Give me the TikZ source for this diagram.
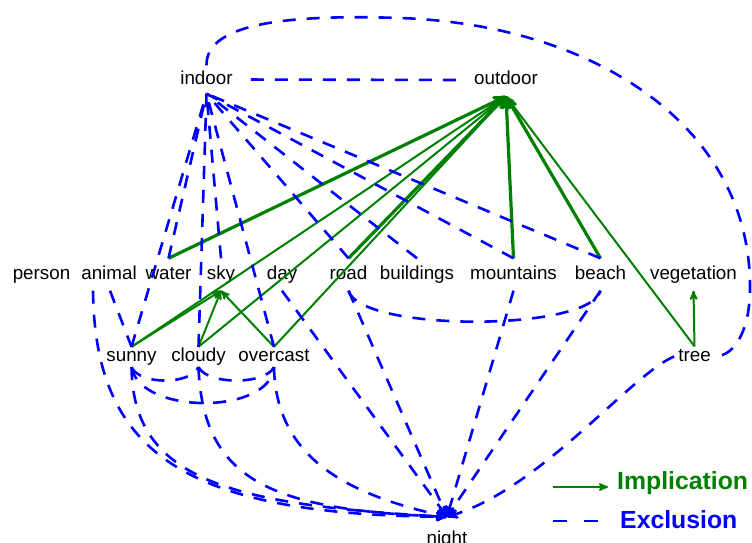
\documentclass[tikz,border=0pt]{standalone}
\usepackage{fontspec}
\setmainfont{Liberation Sans}
\usepackage{tikz}
\usetikzlibrary{arrows,positioning}
\definecolor{impgreen}{RGB}{0,128,0}
\definecolor{exblue}{RGB}{0,0,255}

\begin{document}
\begin{tikzpicture}[x=1pt, y=-1pt,
                    >=stealth',
                    lbl/.style = {inner xsep=4pt, inner ysep=0pt, text height=13.5pt, text depth=4pt,
                                  minimum height=#1, font=\fontsize{18.8}{22}\selectfont},
                    lbl/.default = 32pt,
                    legend/.style = {inner sep=0pt, font=\bfseries\fontsize{24.8}{28}\selectfont},
                    imp/.style = {->, draw=impgreen, line width=2pt},
                    impthick/.style = {imp, line width=3.2pt},
                    excl/.style = {draw=exblue, line width=2.6pt, dash pattern=on 13pt off 11pt}
                    ]
\useasboundingbox (0,0) rectangle (752,542);

% labels
\node[lbl=28pt] (indoor)  at (206.5,79.5) {indoor};
\node[lbl]      (outdoor) at (506,80)     {outdoor};

\node[lbl] (person)     at (41.5,274.5)  {person};
\node[lbl] (animal)     at (109,274.5)   {animal};
\node[lbl] (water)      at (168.5,274.5) {water};
\node[lbl] (sky)        at (221,274.5)   {sky};
\node[lbl] (day)        at (282,274.5)   {day};
\node[lbl] (road)       at (348.5,274.5) {road};
\node[lbl] (buildings)  at (417,274.5)   {buildings};
\node[lbl] (mountains)  at (513.5,274.5) {mountains};
\node[lbl] (beach)      at (600.5,274.5) {beach};
\node[lbl] (vegetation) at (693.5,274.5) {vegetation};

\node[lbl=20pt] (sunny)    at (131.5,357) {sunny};
\node[lbl=20pt] (cloudy)   at (198.5,357) {cloudy};
\node[lbl=20pt] (overcast) at (274,357)   {overcast};
\node[lbl=20pt] (tree)     at (694.5,356.5) {tree};

\node[lbl=46pt] (night) at (447,540) {night};

% implications
\path[every edge/.append style=impthick]
    (water.north)     edge (outdoor.south)
    (road.north)      edge (outdoor.south)
    (mountains.north) edge (outdoor.south)
    (beach.north)     edge (outdoor.south);
\path[every edge/.append style=imp]
    (sunny.north)    edge (outdoor.south)
    (cloudy.north)   edge (outdoor.south)
    (overcast.north) edge (outdoor.south)
    (tree.north)     edge (outdoor.south)
    (sunny.north)    edge (sky.south)
    (cloudy.north)   edge (sky.south)
    (overcast.north) edge (sky.south)
    (tree.north)     edge (vegetation.south);

% exclusions
\draw[excl, shorten <=14pt, shorten >=14pt] (indoor.east) -- (outdoor.west);
\path[every edge/.append style=excl]
    (water.north)     edge (indoor.south)
    (sunny.north)     edge (indoor.south)
    (cloudy.north)    edge (indoor.south)
    (sky.north)       edge (indoor.south)
    (overcast.north)  edge (indoor.south)
    (road.north)      edge (indoor.south)
    (buildings.north) edge (indoor.south)
    (mountains.north) edge (indoor.south)
    (beach.north)     edge (indoor.south)
    ([xshift=1pt]animal.south) edge (sunny.north);
\draw[excl] (indoor.north) .. controls (206,25) and (280,14) .. (400,18)
            .. controls (600,25) and (752,130) .. (750,290)
            .. controls (749.5,330) and (735,356) .. (tree.east);
\draw[excl] (road.south) .. controls (360,332) and (590,332) .. (beach.south);
\draw[excl] (sunny.south) .. controls (140,385) and (190,385) .. (cloudy.south);
\draw[excl] (cloudy.south) .. controls (208,385) and (265,385) .. (overcast.south);
\draw[excl] (sunny.south) .. controls (140,415) and (270,415) .. (overcast.south);

\draw[excl,->] ([xshift=-16pt]animal.south) .. controls (95,450) and (180,515) .. (night.north);
\draw[excl,->] (sunny.south) .. controls (133,480) and (230,505) .. (night.north);
\draw[excl,->] (cloudy.south) .. controls (203,480) and (270,510) .. (night.north);
\draw[excl,->] (overcast.south) .. controls (276,460) and (350,495) .. (night.north);
\draw[excl,->] (tree.west) .. controls (630,375) and (540,490) .. (night.north);
\path[every edge/.append style={excl,->}]
    (day.south)       edge (night.north)
    (road.south)      edge (night.north)
    (mountains.south) edge (night.north)
    (beach.south)     edge (night.north);

% legend
\coordinate (impL) at (553,487);
\coordinate (impR) at (608,487);
\coordinate (exL)  at (553,521);
\coordinate (exR)  at (598,521);
\draw[imp] (impL) -- (impR);
\draw[excl, dash pattern=on 14pt off 17pt] (exL) -- (exR);
\node[legend, text=impgreen, right=9pt of impR, yshift=3.5pt] (implication) {Implication};
\node[legend, text=exblue, right=22pt of exR, yshift=1pt] (exclusion) {Exclusion};
\end{tikzpicture}
\end{document}
